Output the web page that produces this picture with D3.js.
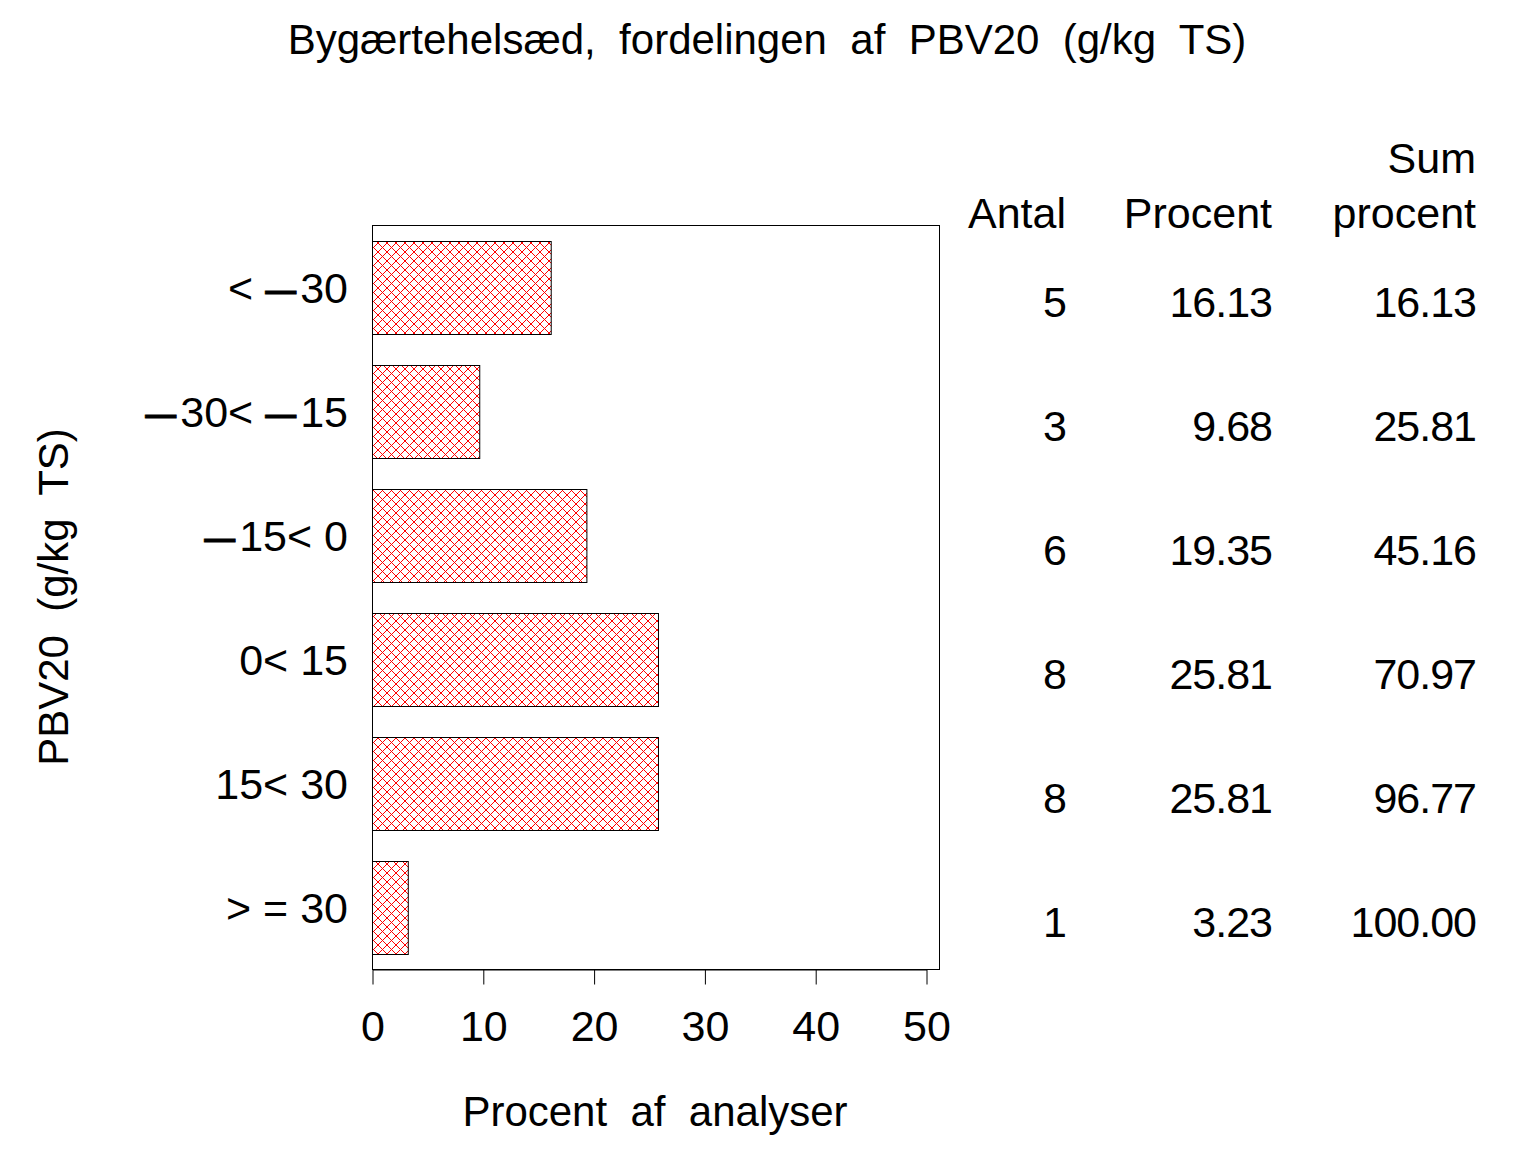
<!DOCTYPE html>
<html><head><meta charset="utf-8">
<script src="https://cdn.jsdelivr.net/npm/d3@7"></script>
<style>body{margin:0;background:#fff}svg{display:block}text{font-family:"Liberation Sans",Arial,sans-serif;fill:#000}</style>
</head><body>
<script>
const categories = ["< \u221230", "\u221230< \u221215", "\u221215< 0", "0< 15", "15< 30", "> = 30"];
const percent = [16.13, 9.68, 19.35, 25.81, 25.81, 3.23];
const antal = [5, 3, 6, 8, 8, 1];
const sumPercent = [16.13, 25.81, 45.16, 70.97, 96.77, 100.00];
const xTicks = [0, 10, 20, 30, 40, 50];
const title = "Bygærtehelsæd,  fordelingen  af  PBV20  (g/kg  TS)";

const W = 1536, H = 1152;
const svg = d3.select("body").append("svg").attr("width", W).attr("height", H);
const defs = svg.append("defs");
const pat = defs.append("pattern").attr("id","hatch").attr("patternUnits","userSpaceOnUse")
  .attr("width",9).attr("height",9);
pat.append("path").attr("d","M0,0L9,9M0,9L9,0M-1,8L1,10M8,-1L10,1").attr("stroke","#ff0000").attr("stroke-width",1).attr("fill","none");

const pLeft = 372, pRight = 939, pTop = 225, pBottom = 969;
const x = d3.scaleLinear().domain([0, 50]).range([pLeft, 926]);
const y = d3.scaleBand().domain(categories).range([pTop, pBottom]).paddingInner(0.25).paddingOuter(0.125);

svg.append("text").attr("x", 767).attr("y", 54).attr("text-anchor","middle").attr("font-size",42)
  .attr("xml:space","preserve").style("white-space","pre").text(title);

// frame
svg.append("rect").attr("x", pLeft+0.5).attr("y", pTop+0.5).attr("width", pRight-pLeft).attr("height", pBottom-pTop)
  .attr("fill","none").attr("stroke","#000").attr("stroke-width",1);

// bars
svg.selectAll("rect.bar").data(categories).enter().append("rect").attr("class","bar")
  .attr("x", pLeft+0.5).attr("y", d => Math.round(y(d))+0.5)
  .attr("width", (d,i) => x(percent[i]) - pLeft).attr("height", Math.round(y.bandwidth()))
  .attr("fill","url(#hatch)").attr("stroke","#000").attr("stroke-width",1);

// x axis
const xAxis = d3.axisBottom(x).tickValues(xTicks).tickSize(15).tickSizeOuter(0).tickPadding(26);
const gx = svg.append("g").attr("transform", `translate(0.5,${pBottom+0.5})`).call(xAxis);
gx.select(".domain").attr("stroke","#000");
gx.selectAll(".tick line").attr("stroke","#000");
gx.selectAll(".tick text").attr("font-size",43).attr("font-family",'"Liberation Sans",Arial,sans-serif').attr("fill","#000").attr("dy","0.71em");

// y category labels
const yAxis = d3.axisLeft(y).tickSize(0).tickPadding(24);
const gy = svg.append("g").attr("transform", `translate(${pLeft},0)`).call(yAxis);
gy.select(".domain").remove();
gy.selectAll(".tick text").attr("font-size",43).attr("font-family",'"Liberation Sans",Arial,sans-serif').attr("fill","#000")
  .attr("dy", null).attr("y", 16)
  .attr("xml:space","preserve").style("white-space","pre")
  .each(function(d) {
    const t = d3.select(this);
    t.text(null);
    const parts = d.split("\u2212");
    parts.forEach((p, i) => {
      if (i > 0) {
        t.append("tspan").attr("font-size",31).attr("font-weight","bold").attr("dy",-2)
          .attr("stroke","#000").attr("stroke-width",0.8).text("\u2014");
        t.append("tspan").attr("dy",2).attr("dx",4).text(p);
      } else if (p.length) {
        t.append("tspan").text(p);
      }
    });
  });

// axis labels
svg.append("text").attr("x", 655).attr("y", 1126).attr("text-anchor","middle").attr("font-size",42)
  .attr("xml:space","preserve").style("white-space","pre").text("Procent  af  analyser");
svg.append("text").attr("transform","translate(68,597) rotate(-90)").attr("text-anchor","middle").attr("font-size",42)
  .attr("xml:space","preserve").style("white-space","pre").text("PBV20  (g/kg  TS)");

// table
const cols = [
  {x: 1066, head: ["Antal"], vals: antal.map(String)},
  {x: 1272, head: ["Procent"], vals: percent.map(v => v.toFixed(2))},
  {x: 1476, head: ["Sum", "procent"], vals: sumPercent.map(v => v.toFixed(2))}
];
cols.forEach(c => {
  c.head.forEach((h, j) => {
    svg.append("text").attr("x", c.x).attr("y", 228 - (c.head.length - 1 - j) * 55)
      .attr("text-anchor","end").attr("font-size",43).text(h);
  });
  svg.selectAll(null).data(categories).enter().append("text")
    .attr("x", c.x).attr("y", d => y(d) + y.bandwidth()/2 + 30)
    .attr("text-anchor","end").attr("font-size",43).attr("letter-spacing",-1).text((d,i) => c.vals[i]);
});
</script>
</body></html>
